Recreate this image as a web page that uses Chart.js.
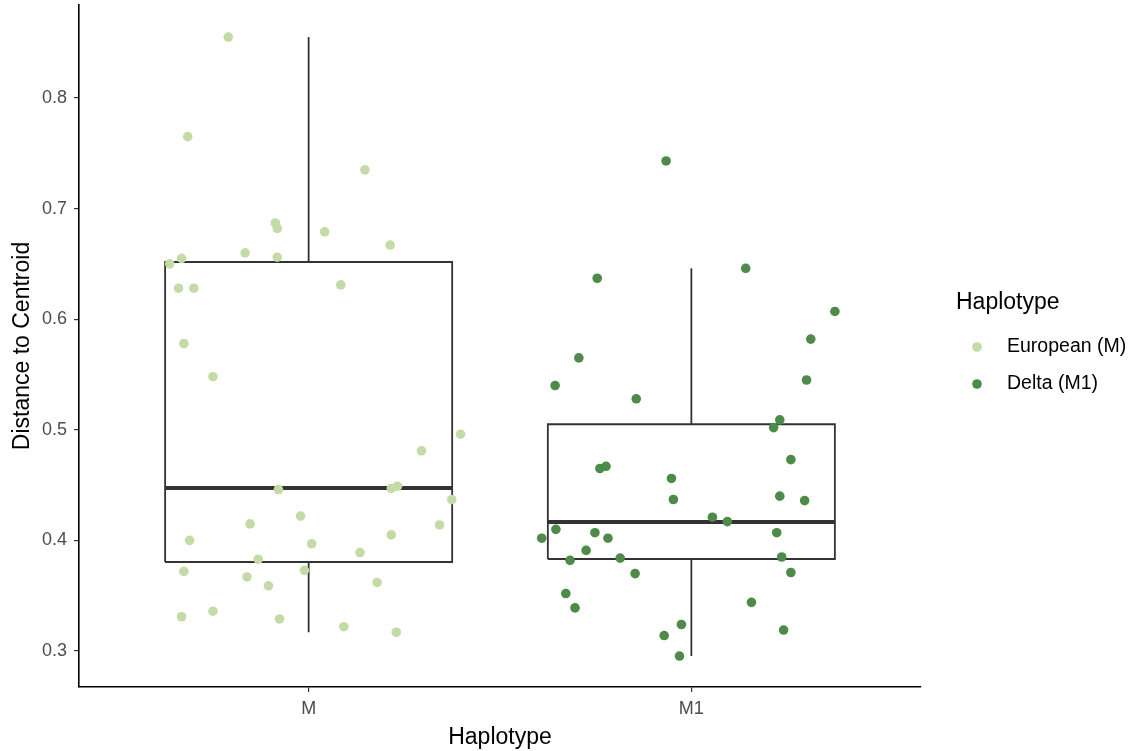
<!DOCTYPE html>
<html>
<head>
<meta charset="utf-8">
<script src="https://cdn.jsdelivr.net/npm/chart.js@4.4.1/dist/chart.umd.min.js"></script>
<style>
    html, body { margin: 0; padding: 0; background: #fff; }
    #wrap { width: 1141px; height: 751px; }
</style>
</head>
<body>
<div id="wrap"><canvas id="myChart" width="1141" height="751"></canvas></div>
<script>
// categories and series
var categories = ['M', 'M1'];
var seriesNames = ['European (M)', 'Delta (M1)'];
var seriesColors = ['#c5dba7', '#4e8a4a'];
var yTicks = [0.3, 0.4, 0.5, 0.6, 0.7, 0.8];

// jittered points (offset from category centre, value)
var jitterM = [-0.21, -0.316, 0.147, -0.087, -0.082, 0.042, 0.213, -0.166, -0.082, -0.332,
    -0.363, 0.084, -0.34, -0.30, -0.326, -0.25, 0.397, 0.295, -0.079, 0.216,
    0.232, 0.374, -0.021, -0.153, 0.342, 0.216, -0.311, 0.008, 0.134, -0.132,
    -0.326, -0.011, -0.161, 0.179, -0.105, -0.25, -0.332, -0.076, 0.092, 0.229];
var valuesM = [0.855, 0.765, 0.735, 0.687, 0.682, 0.679, 0.667, 0.660, 0.656, 0.655,
    0.650, 0.631, 0.628, 0.628, 0.578, 0.548, 0.496, 0.481, 0.446, 0.447,
    0.449, 0.437, 0.422, 0.415, 0.414, 0.405, 0.400, 0.397, 0.389, 0.383,
    0.372, 0.373, 0.367, 0.362, 0.359, 0.336, 0.331, 0.329, 0.322, 0.317];

var jitterM1 = [-0.066, -0.246, 0.142, 0.375, 0.312, -0.294, -0.356, 0.301, -0.144, 0.231,
    0.215, 0.260, -0.239, -0.223, -0.052, -0.047, 0.231, 0.296, 0.055, 0.094,
    -0.354, -0.391, -0.252, -0.218, 0.223, -0.275, -0.317, -0.186, 0.236, -0.147,
    0.260, -0.328, -0.304, 0.157, -0.026, -0.071, 0.241, -0.031];
var valuesM1 = [0.743, 0.637, 0.646, 0.607, 0.582, 0.565, 0.540, 0.545, 0.528, 0.509,
    0.502, 0.473, 0.465, 0.467, 0.456, 0.437, 0.440, 0.436, 0.421, 0.417,
    0.410, 0.402, 0.407, 0.402, 0.407, 0.391, 0.382, 0.384, 0.385, 0.370,
    0.371, 0.352, 0.339, 0.344, 0.324, 0.314, 0.319, 0.2955];

// box statistics per category
var boxLow = [0.317, 0.2955];
var boxQ1 = [0.3805, 0.3832];
var boxMedian = [0.4474, 0.4166];
var boxQ3 = [0.6517, 0.505];
var boxHigh = [0.855, 0.646];

var BOX_HALF = 0.375;
var FONT = '"Liberation Sans", Arial, Helvetica, sans-serif';

function toPoints(jitter, values, centre) {
    var pts = [];
    for (var i = 0; i < values.length; i++) {
        pts.push({ x: centre + jitter[i], y: values[i] });
    }
    return pts;
}

function lineSet(points, width) {
    return {
        type: 'scatter',
        data: points,
        showLine: true,
        borderColor: '#333333',
        borderWidth: width,
        pointRadius: 0,
        fill: false,
        order: 2
    };
}

var datasets = [
    {
        label: seriesNames[0],
        data: toPoints(jitterM, valuesM, 1),
        backgroundColor: seriesColors[0],
        borderWidth: 0,
        pointRadius: 4.8,
        order: 0
    },
    {
        label: seriesNames[1],
        data: toPoints(jitterM1, valuesM1, 2),
        backgroundColor: seriesColors[1],
        borderWidth: 0,
        pointRadius: 4.8,
        order: 0
    }
];

// boxes and whiskers built from the stats arrays
for (var i = 0; i < categories.length; i++) {
    var c = i + 1;
    datasets.push(lineSet([
        { x: c - BOX_HALF, y: boxQ1[i] }, { x: c + BOX_HALF, y: boxQ1[i] },
        { x: c + BOX_HALF, y: boxQ3[i] }, { x: c - BOX_HALF, y: boxQ3[i] },
        { x: c - BOX_HALF, y: boxQ1[i] }
    ], 1.8));
    datasets.push(lineSet([{ x: c - BOX_HALF, y: boxMedian[i] }, { x: c + BOX_HALF, y: boxMedian[i] }], 4));
    datasets.push(lineSet([{ x: c, y: boxQ3[i] }, { x: c, y: boxHigh[i] }], 1.8));
    datasets.push(lineSet([{ x: c, y: boxQ1[i] }, { x: c, y: boxLow[i] }], 1.8));
}

// legend drawn at the right like ggplot's guide
var legendPlugin = {
    id: 'ggLegend',
    afterDraw: function (chart) {
        var ctx = chart.ctx;
        ctx.save();
        ctx.textBaseline = 'middle';
        ctx.fillStyle = '#000';
        ctx.font = '23px ' + FONT;
        ctx.fillText('Haplotype', 956, 303);
        ctx.font = '19.5px ' + FONT;
        for (var k = 0; k < seriesNames.length; k++) {
            var y = 347 + k * 37;
            ctx.beginPath();
            ctx.arc(977, y, 4.8, 0, Math.PI * 2);
            ctx.fillStyle = seriesColors[k];
            ctx.fill();
            ctx.fillStyle = '#000';
            ctx.fillText(seriesNames[k], 1007, y);
        }
        ctx.restore();
    }
};

var ctx = document.getElementById('myChart').getContext('2d');
var myChart = new Chart(ctx, {
    type: 'scatter',
    data: { datasets: datasets },
    plugins: [legendPlugin],
    options: {
        responsive: false,
        animation: false,
        layout: { padding: { top: 5, right: 220, left: 0, bottom: 0 } },
        plugins: {
            legend: { display: false },
            tooltip: { enabled: false }
        },
        scales: {
            x: {
                type: 'linear',
                min: 0.4,
                max: 2.6,
                afterBuildTicks: function (axis) {
                    axis.ticks = categories.map(function (c, idx) { return { value: idx + 1 }; });
                },
                afterFit: function (axis) {
                    axis.height = 64;
                    axis.paddingLeft = 0;
                    axis.paddingRight = 0;
                },
                ticks: {
                    autoSkip: false,
                    color: '#4d4d4d',
                    font: { family: FONT, size: 18 },
                    padding: 6,
                    callback: function (v) { return categories[v - 1]; }
                },
                grid: { drawOnChartArea: false, drawTicks: true, tickLength: 5, color: '#333', lineWidth: 1.2 },
                border: { display: true, color: '#000', width: 1.6 },
                title: {
                    display: true,
                    text: 'Haplotype',
                    color: '#000',
                    font: { family: FONT, size: 23 },
                    padding: { top: 0, bottom: 0 }
                }
            },
            y: {
                min: 0.2675,
                max: 0.884,
                afterBuildTicks: function (axis) {
                    axis.ticks = yTicks.map(function (v) { return { value: v }; });
                },
                afterFit: function (axis) {
                    axis.width = 79;
                    axis.paddingTop = 0;
                    axis.paddingBottom = 0;
                },
                ticks: {
                    color: '#4d4d4d',
                    font: { family: FONT, size: 18 },
                    padding: 7,
                    callback: function (v) { return v.toFixed(1); }
                },
                grid: { drawOnChartArea: false, drawTicks: true, tickLength: 5, color: '#333', lineWidth: 1.2 },
                border: { display: true, color: '#000', width: 1.6 },
                title: {
                    display: true,
                    text: 'Distance to Centroid',
                    color: '#000',
                    font: { family: FONT, size: 23 },
                    padding: { top: 9, bottom: 0 }
                }
            }
        }
    }
});
</script>
</body>
</html>
